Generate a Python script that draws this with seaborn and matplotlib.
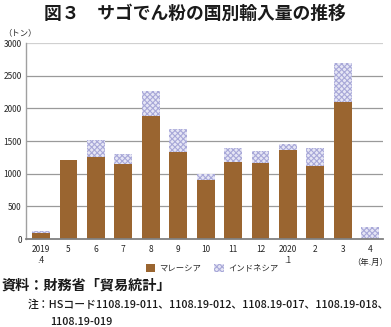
import matplotlib
matplotlib.use("Agg")
import matplotlib.pyplot as plt
import seaborn as sns
import pandas as pd
from matplotlib.patches import Patch

# Monthly sago starch imports by country (tonnes)
months = ["2019\n.4", "5", "6", "7", "8", "9", "10", "11", "12", "2020\n.1", "2", "3", "4"]
malaysia = [100, 1210, 1260, 1150, 1880, 1330, 900, 1180, 1170, 1360, 1120, 2100, 0]
indonesia = [30, 0, 250, 150, 390, 350, 100, 210, 180, 90, 270, 600, 190]
y_ticks = [0, 500, 1000, 1500, 2000, 2500, 3000]

sns.set_theme(style="white")
plt.rcParams["font.family"] = ["Noto Sans CJK JP", "DejaVu Sans"]
plt.rcParams["hatch.linewidth"] = 0.8

df = pd.DataFrame({"month": months, "malaysia": malaysia, "indonesia": indonesia})
df["total"] = df["malaysia"] + df["indonesia"]

fig = plt.figure(figsize=(3.91, 3.27), dpi=100)
ax = fig.add_axes([0.0665, 0.269, 0.913, 0.5995])

brown = "#9a6530"
pat_face = "#e6e6f5"
pat_edge = "#a8a8d8"
# Stacked bars: full total (Indonesia pattern) behind, Malaysia on top
sns.barplot(data=df, x="month", y="total", ax=ax, color=pat_face,
            edgecolor=pat_edge, hatch="xxxxxx", linewidth=0, width=0.65,
            saturation=1, order=months)
sns.barplot(data=df, x="month", y="malaysia", ax=ax, color=brown,
            linewidth=0, width=0.65, saturation=1, order=months)

ax.set_ylim(0, 3000)
ax.set_xlim(-0.55, 12.47)
ax.set_yticks(y_ticks)
ax.set_yticklabels([str(v) for v in y_ticks], fontsize=6)
ax.set_xticks(range(len(months)))
ax.set_xticklabels(months, fontsize=6, linespacing=1.4)
ax.tick_params(axis="both", length=0, pad=3)
ax.tick_params(axis="x", pad=4)
ax.set_xlabel("")
ax.set_ylabel("")

for v in y_ticks[1:]:
    ax.axhline(v, color="#d0d0d0" if v == 3000 else "#9a9a9a", lw=0.9, zorder=0)

for s in ["top", "right"]:
    ax.spines[s].set_visible(False)
ax.spines["left"].set_color("#a0a0a0")
ax.spines["left"].set_linewidth(1.0)
ax.spines["bottom"].set_color("#808080")
ax.spines["bottom"].set_linewidth(1.3)

# Unit labels
fig.text(3 / 391, 1 - 33 / 327, "（トン）", fontsize=6, va="center", ha="left")
fig.text(370 / 391, 1 - 262 / 327, "（年.月）", fontsize=6, va="center", ha="center")

# Legend
handles = [Patch(facecolor=brown, edgecolor="none", label="マレーシア"),
           Patch(facecolor=pat_face, edgecolor=pat_edge, hatch="xxxxxx", lw=0, label="インドネシア")]
fig.legend(handles=handles, loc="center", bbox_to_anchor=(212 / 391, 1 - 268 / 327),
           ncol=2, frameon=False, fontsize=6, handlelength=1.1, handleheight=1.1,
           handletextpad=0.5, columnspacing=1.6, borderaxespad=0)

# Title
fig.text(195 / 391, 1 - 14 / 327, "図３　サゴでん粉の国別輸入量の推移",
         fontsize=12.8, fontweight="bold", ha="center", va="center", color="#1a1a1a")

# Source and note
fig.text(2 / 391, 1 - 286 / 327, "資料：財務省「貿易統計」", fontsize=10.2,
         fontweight="bold", ha="left", va="center", color="#1a1a1a")
fig.text(28 / 391, 1 - 305 / 327,
         "注：HSコード1108.19-011、1108.19-012、1108.19-017、1108.19-018、",
         fontsize=7.8, fontweight="medium", ha="left", va="center", color="#1a1a1a")
fig.text(50 / 391, 1 - 322 / 327, "1108.19-019", fontsize=7.8,
         fontweight="medium", ha="left", va="center", color="#1a1a1a")

fig.savefig("out.png", dpi=100)
